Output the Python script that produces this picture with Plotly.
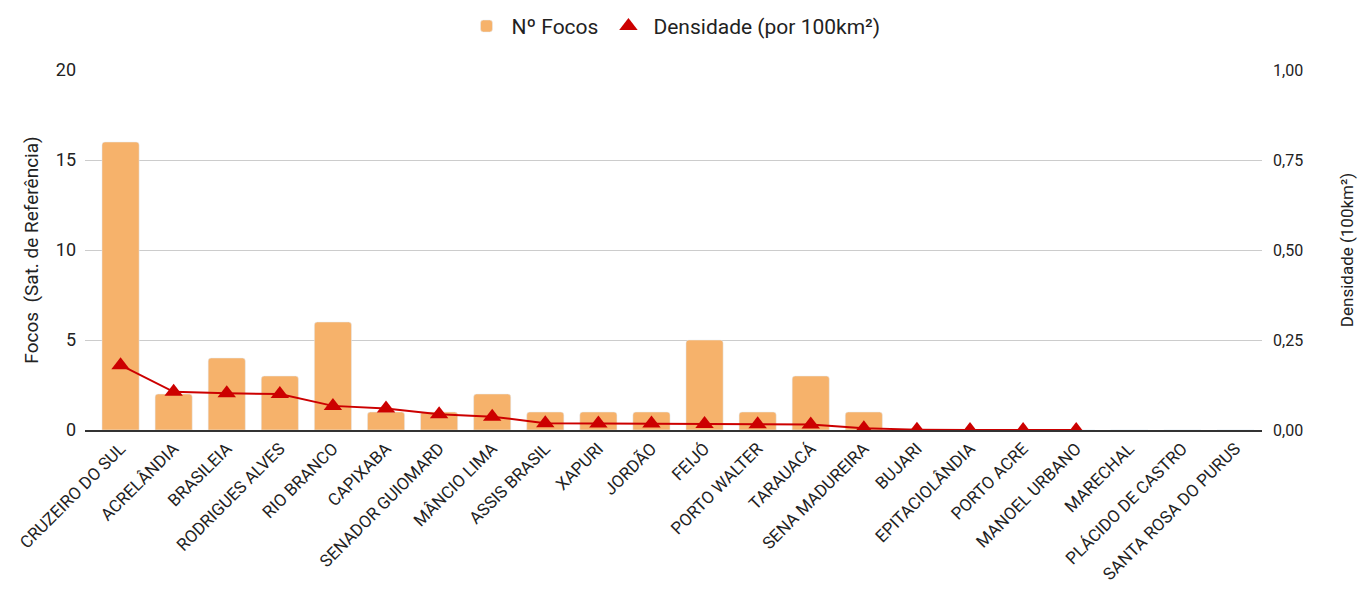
import plotly.graph_objects as go

municipios = ["CRUZEIRO DO SUL", "ACRELÂNDIA", "BRASILEIA", "RODRIGUES ALVES", "RIO BRANCO",
              "CAPIXABA", "SENADOR GUIOMARD", "MÂNCIO LIMA", "ASSIS BRASIL", "XAPURI", "JORDÃO",
              "FEIJÓ", "PORTO WALTER", "TARAUACÁ", "SENA MADUREIRA", "BUJARI", "EPITACIOLÂNDIA",
              "PORTO ACRE", "MANOEL URBANO", "MARECHAL", "PLÁCIDO DE CASTRO", "SANTA ROSA DO PURUS"]
focos = [16, 2, 4, 3, 6, 1, 1, 2, 1, 1, 1, 5, 1, 3, 1, 0, 0, 0, 0, 0, 0, 0]
densidade = [0.18, 0.106, 0.102, 0.10, 0.067, 0.06, 0.044, 0.037, 0.019, 0.018, 0.018,
             0.017, 0.016, 0.015, 0.005, 0.001, 0.0, 0.0, 0.0, None, None, None]

BAR = "#f6b26b"
RED = "#cc0000"
FONT = "Roboto"

fig = go.Figure()
fig.add_trace(go.Bar(x=list(range(len(municipios))), y=focos, name="Nº Focos",
                     marker=dict(color=BAR), yaxis="y"))
fig.add_trace(go.Scatter(x=list(range(len(municipios))), y=densidade, name="Densidade (por 100km²)",
                         mode="lines+markers", yaxis="y2", showlegend=False,
                         line=dict(color=RED, width=2),
                         marker=dict(symbol="triangle-up", size=16, color=RED)))
fig.add_trace(go.Scatter(x=[None], y=[None], name="Densidade (por 100km²)", mode="markers",
                         yaxis="y2", marker=dict(symbol="triangle-up", size=17, color=RED)))

fig.update_layout(
    width=1364, height=601,
    margin=dict(l=85, r=102, t=70, b=171),
    paper_bgcolor="white", plot_bgcolor="white",
    font=dict(family=FONT, color="#222222", size=15),
    separators=",.",
    bargap=0.30,
    barcornerradius=3,
    legend=dict(orientation="h", x=0.5, xanchor="center", y=0.922, yanchor="bottom",
                yref="container", font=dict(size=21, color="#222222"), itemwidth=40,
                traceorder="normal"),
    xaxis=dict(range=[-0.67, 21.5], tickmode="array", tickvals=list(range(len(municipios))),
               ticktext=municipios, tickangle=-45, tickfont=dict(size=17, color="#222222"),
               showgrid=False, showline=True, linecolor="#333333", linewidth=2, ticks=""),
    yaxis=dict(range=[0, 20], tickvals=[0, 5, 10, 15, 20], showgrid=True, gridcolor="#cccccc",
               gridwidth=1, zeroline=False, tickfont=dict(size=18, color="#222222"),
               ticklabelstandoff=8,
               title=dict(text="Focos  (Sat. de Referência)", font=dict(size=19, color="#222222"),
                          standoff=12)),
    yaxis2=dict(range=[0, 1], tickvals=[0, 0.25, 0.5, 0.75, 1.0], tickformat=".2f",
                overlaying="y", side="right", showgrid=False, zeroline=False,
                tickfont=dict(size=16, color="#222222"), ticklabelstandoff=10,
                title=dict(text="Densidade (100km²)", font=dict(size=17, color="#222222"),
                           standoff=38)),
)
fig.write_html("out.html")
